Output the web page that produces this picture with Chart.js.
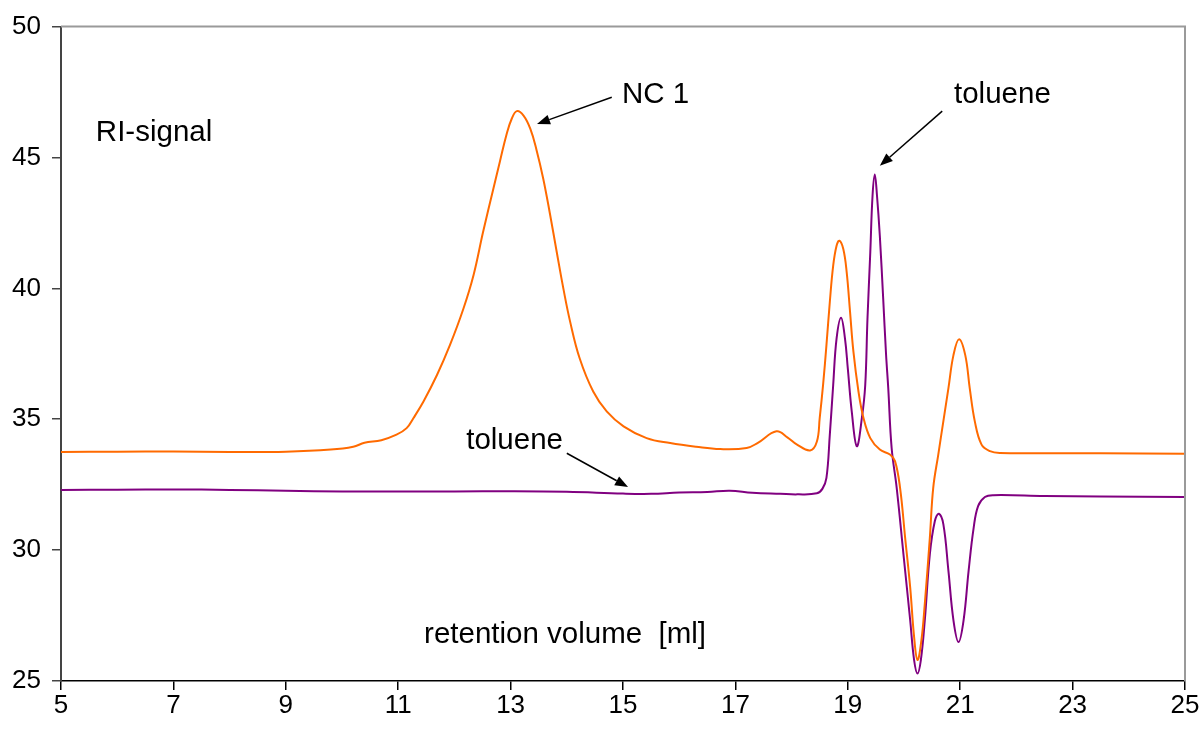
<!DOCTYPE html>
<html>
<head>
<meta charset="utf-8">
<script src="https://cdn.jsdelivr.net/npm/chart.js@4"></script>
<style>
  body { margin: 0; background: #fff; }
  #wrap { width: 1203px; height: 731px; }
</style>
</head>
<body>
<div id="wrap"><canvas id="myChart" width="1203" height="731"></canvas></div>
<script>
// NC 1 trace (retention volume in ml, RI signal)
var ncVolume = [5, 6, 7, 8, 9, 9.8, 10.2, 10.4, 10.7, 10.97, 11.15, 11.27, 11.45, 11.69, 11.92, 12.16, 12.34,
    12.51, 12.69, 12.81, 12.93, 13.02, 13.11, 13.23, 13.35, 13.46, 13.58, 13.70, 13.82, 13.94, 14.06, 14.23,
    14.47, 14.71, 15.01, 15.42, 15.84, 16.3, 16.73, 17.2, 17.4, 17.73, 17.93, 18.09, 18.33, 18.45, 18.50,
    18.56, 18.62, 18.68, 18.74, 18.80, 18.85, 18.92, 18.98, 19.04, 19.10, 19.19, 19.28, 19.40, 19.57, 19.75,
    19.84, 19.93, 20.02, 20.11, 20.18, 20.24, 20.31, 20.37, 20.46, 20.52, 20.61, 20.70, 20.79, 20.88, 20.98,
    21.09, 21.17, 21.26, 21.38, 21.53, 21.71, 22.5, 23.5, 25];
var ncSignal = [33.75, 33.76, 33.77, 33.75, 33.76, 33.84, 33.95, 34.1, 34.2, 34.41, 34.66, 35.04, 35.68, 36.69, 37.83, 39.22, 40.5,
    42.15, 43.78, 44.85, 45.9, 46.48, 46.77, 46.6, 46.1, 45.3, 44.2, 42.85, 41.4, 39.98, 38.72, 37.32,
    36.06, 35.3, 34.73, 34.28, 34.09, 33.95, 33.86, 33.9, 34.1, 34.54, 34.3, 34.04, 33.81, 34.15, 35.04,
    36.31, 37.83, 39.48, 40.87, 41.63, 41.82, 41.5, 40.62, 39.1, 37.58, 36.06, 35.04, 34.28, 33.84, 33.65,
    33.4, 32.38, 30.48, 28.58, 26.68, 25.8, 26.56, 27.95, 30.48, 32.38, 33.65, 34.92, 36.18, 37.45, 38.06,
    37.45, 36.18, 34.92, 34.03, 33.78, 33.71, 33.7, 33.7, 33.68];

// toluene trace
var tolVolume = [5, 6, 7, 8, 9, 10, 11, 12, 13, 14, 15, 15.5, 16, 16.5, 16.9, 17.3, 17.8, 18.1, 18.45, 18.55,
    18.62, 18.68, 18.74, 18.80, 18.88, 18.95, 19.0, 19.07, 19.16, 19.25, 19.31, 19.35, 19.40, 19.44, 19.48,
    19.52, 19.57, 19.63, 19.68, 19.72, 19.78, 19.87, 19.99, 20.11, 20.18, 20.24, 20.30, 20.37, 20.46, 20.55,
    20.62, 20.70, 20.79, 20.88, 20.97, 21.06, 21.15, 21.24, 21.32, 21.44, 21.59, 22.5, 23.5, 25];
var tolSignal = [32.3, 32.31, 32.32, 32.3, 32.27, 32.24, 32.24, 32.24, 32.25, 32.23, 32.16, 32.15, 32.2, 32.22, 32.27, 32.19, 32.15, 32.13, 32.17, 32.35,
    32.76, 34.41, 36.31, 38.08, 38.88, 38.08, 36.94, 35.3, 33.97, 35.04, 36.3, 38.84, 41.37, 43.53, 44.35,
    43.53, 42.0, 39.6, 37.5, 36.18, 33.9, 32.38, 29.85, 27.32, 25.8, 25.29, 25.8, 27.32, 29.85, 31.12,
    31.39, 30.99, 29.22, 27.32, 26.49, 27.32, 29.22, 30.86, 31.69, 32.03, 32.1, 32.07, 32.05, 32.03];

var xTicks = [5, 7, 9, 11, 13, 15, 17, 19, 21, 23, 25];
var yTicks = [25, 30, 35, 40, 45, 50];

// text labels and arrows, in data coordinates
var notes = [
    { text: 'RI-signal', x: 5.62, y: 45.93 },
    { text: 'NC 1', x: 14.98, y: 47.38 },
    { text: 'toluene', x: 20.89, y: 47.38 },
    { text: 'toluene', x: 12.21, y: 34.16 },
    { text: 'retention volume  [ml]', x: 11.46, y: 26.75 }
];
var arrows = [
    { from: [14.8, 47.3], to: [13.47, 46.28] },
    { from: [20.68, 46.77], to: [19.57, 44.68] },
    { from: [14.0, 33.7], to: [15.09, 32.41] }
];

var fontFamily = "'Liberation Sans', Arial, sans-serif";

function toPoints(xs, ys) {
    return xs.map(function (x, i) { return { x: x, y: ys[i] }; });
}

var extras = {
    id: 'extras',
    afterDraw: function (chart) {
        var ctx = chart.ctx;
        var xs = chart.scales.x, ys = chart.scales.y;
        var area = chart.chartArea;

        // top and right frame
        ctx.save();
        ctx.strokeStyle = '#9a9a9a';
        ctx.lineWidth = 2;
        ctx.beginPath();
        ctx.moveTo(area.left, area.top);
        ctx.lineTo(area.right, area.top);
        ctx.lineTo(area.right, area.bottom);
        ctx.stroke();

        ctx.fillStyle = '#000';
        ctx.font = '29.5px ' + fontFamily;
        ctx.textBaseline = 'middle';
        ctx.textAlign = 'left';
        notes.forEach(function (n) {
            ctx.fillText(n.text, xs.getPixelForValue(n.x), ys.getPixelForValue(n.y));
        });

        ctx.strokeStyle = '#000';
        ctx.lineWidth = 1.5;
        arrows.forEach(function (a) {
            var x1 = xs.getPixelForValue(a.from[0]), y1 = ys.getPixelForValue(a.from[1]);
            var x2 = xs.getPixelForValue(a.to[0]), y2 = ys.getPixelForValue(a.to[1]);
            var ang = Math.atan2(y2 - y1, x2 - x1);
            var len = 13, half = 5;
            var bx = x2 - len * Math.cos(ang), by = y2 - len * Math.sin(ang);
            ctx.beginPath();
            ctx.moveTo(x1, y1);
            ctx.lineTo(bx, by);
            ctx.stroke();
            ctx.beginPath();
            ctx.moveTo(x2, y2);
            ctx.lineTo(bx + half * Math.sin(ang), by - half * Math.cos(ang));
            ctx.lineTo(bx - half * Math.sin(ang), by + half * Math.cos(ang));
            ctx.closePath();
            ctx.fill();
        });
        ctx.restore();
    }
};

var ctx = document.getElementById('myChart').getContext('2d');
var currentChart = new Chart(ctx, {
    type: 'scatter',
    data: {
        datasets: [{
            label: 'NC 1',
            data: toPoints(ncVolume, ncSignal),
            showLine: true,
            borderColor: '#ff6a00',
            borderWidth: 2,
            pointRadius: 0,
            tension: 0.4
        }, {
            label: 'toluene',
            data: toPoints(tolVolume, tolSignal),
            showLine: true,
            borderColor: '#800080',
            borderWidth: 2,
            pointRadius: 0,
            tension: 0.4
        }]
    },
    options: {
        responsive: false,
        animation: false,
        devicePixelRatio: 1,
        layout: { padding: { top: 23, right: 18, left: 0, bottom: 0 } },
        plugins: {
            legend: { display: false },
            tooltip: { enabled: false }
        },
        scales: {
            x: {
                type: 'linear',
                min: 5,
                max: 25,
                afterBuildTicks: function (scale) {
                    scale.ticks = xTicks.map(function (v) { return { value: v }; });
                },
                afterFit: function (scale) { scale.height = 50; },
                grid: { drawOnChartArea: false, drawTicks: true, tickLength: 9, color: '#000', lineWidth: 1.5 },
                border: { display: true, color: '#000', width: 1.5 },
                ticks: { color: '#000', padding: 0, maxRotation: 0, font: { size: 26, family: fontFamily } }
            },
            y: {
                type: 'linear',
                min: 25,
                max: 50,
                afterBuildTicks: function (scale) {
                    scale.ticks = yTicks.map(function (v) { return { value: v }; });
                },
                afterFit: function (scale) { scale.width = 61; },
                grid: { drawOnChartArea: false, drawTicks: true, tickLength: 9, color: '#444', lineWidth: 1.5 },
                border: { display: true, color: '#444', width: 2 },
                ticks: { color: '#000', padding: 11, font: { size: 26, family: fontFamily } }
            }
        }
    },
    plugins: [extras]
});
</script>
</body>
</html>
